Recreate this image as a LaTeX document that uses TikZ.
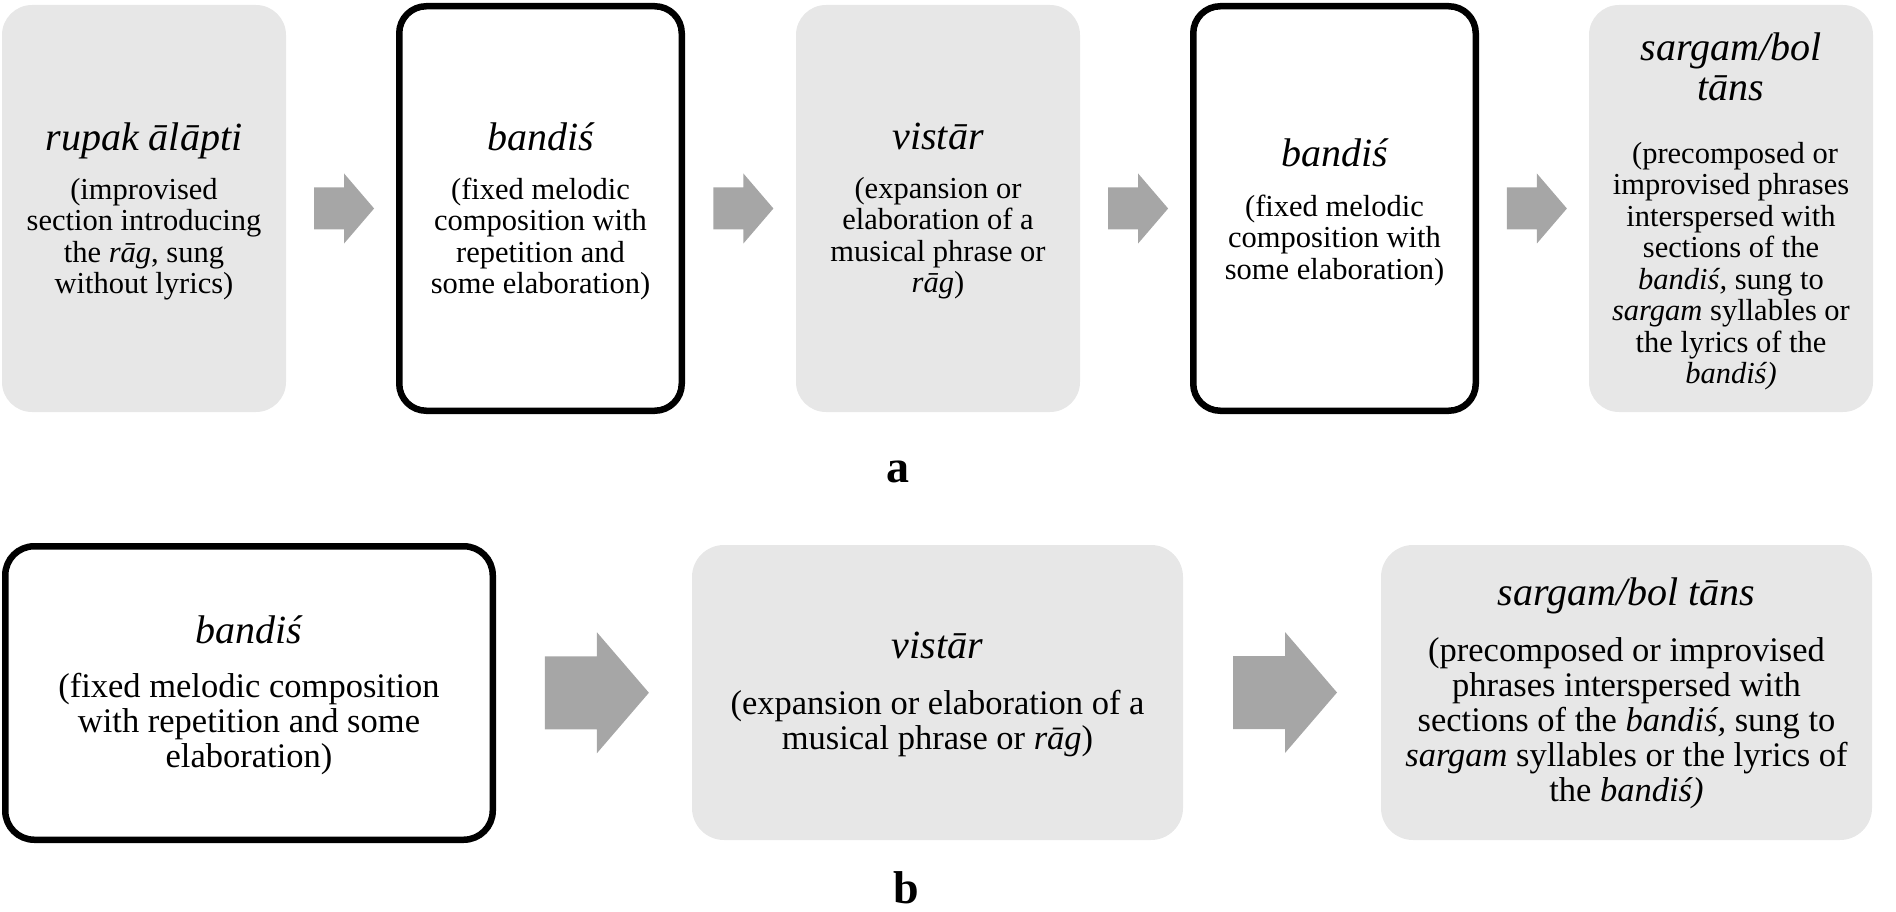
\documentclass[tikz,border=0pt]{standalone}
\usepackage{fontspec}
\setmainfont{Liberation Serif}
\usetikzlibrary{calc}
\definecolor{boxgray}{HTML}{E7E7E7}
\definecolor{arrgray}{HTML}{A6A6A6}
\newcommand\toptext[3][17pt]{\begin{minipage}{280pt}\centering
  \fontsize{40}{40}\selectfont\itshape #2\par\vspace{#1}%
  \fontsize{30.5}{31.5}\selectfont\upshape #3\par\end{minipage}}
\newcommand\bottext[3][19pt]{\begin{minipage}{480pt}\centering
  \fontsize{40}{40}\selectfont\itshape #2\par\vspace{#1}%
  \fontsize{34.5}{35}\selectfont\upshape #3\par\end{minipage}}
% block arrow: #1 centre, #2 half length, #3 shaft half height, #4 head half height, #5 head length
\newcommand\blockarr[5]{%
  \fill[arrgray] ($(#1)+(-#2,-#3)$) -- ($(#1)+(#2-#5,-#3)$) -- ($(#1)+(#2-#5,-#4)$)
    -- ($(#1)+(#2,0)$) -- ($(#1)+(#2-#5,#4)$) -- ($(#1)+(#2-#5,#3)$)
    -- ($(#1)+(-#2,#3)$) -- cycle;}
\begin{document}
\begin{tikzpicture}[x=1pt,y=-1pt,
  graytop/.style={fill=boxgray, draw=none, rounded corners=30pt, inner sep=0pt,
    minimum width=284pt, minimum height=407pt},
  boldtop/.style={fill=white, draw=black, line width=6.5pt, rounded corners=27pt, inner sep=0pt,
    minimum width=282.5pt, minimum height=404.5pt},
  graybot/.style={fill=boxgray, draw=none, rounded corners=32pt, inner sep=0pt,
    minimum width=491pt, minimum height=295pt},
  boldbot/.style={fill=white, draw=black, line width=6.5pt, rounded corners=29pt, inner sep=0pt,
    minimum width=487.5pt, minimum height=293.5pt},
  txt/.style={inner sep=0pt},
  panellabel/.style={font=\bfseries\fontsize{46}{46}\selectfont, anchor=base, inner sep=0pt}]
\useasboundingbox (0,0) rectangle (1896,912);

% row a
\node[graytop] (a1) at (144,208.5) {};
\node[boldtop] (a2) at (540.5,208.5) {};
\node[graytop] (a3) at (938,208.5) {};
\node[boldtop] (a4) at (1334.5,208.5) {};
\node[graytop] (a5) at (1731,208.5) {};

\node[txt] (a1t) at ($(a1.center)+(0,3)$) {\toptext{rupak ālāpti}{(improvised\\section introducing\\the \textit{rāg}, sung\\without lyrics)}};
\node[txt] (a2t) at ($(a2.center)+(0,3)$) {\toptext{bandiś}{(fixed melodic\\composition with\\repetition and\\some elaboration)}};
\node[txt] (a3t) at ($(a3.center)+(0,3)$) {\toptext{vistār}{(expansion or\\elaboration of a\\musical phrase or\\\textit{rāg})}};
\node[txt] (a4t) at ($(a4.center)+(0,4)$) {\toptext[18pt]{bandiś}{(fixed melodic\\composition with\\some elaboration)}};
\node[txt] (a5t) at ($(a5.center)+(0,3)$) {\toptext[31pt]{sargam/bol\\tāns}{\hspace*{8pt}(precomposed or\\improvised phrases\\interspersed with\\sections of the\\\textit{bandiś,} sung to\\\textit{sargam} syllables or\\the lyrics of the\\\textit{bandiś)}}};

\foreach \i/\j in {1/2,2/3,3/4,4/5}{
  \coordinate (ma\i) at ($(a\i.east)!0.5!(a\j.west)+(3,0)$);
  \blockarr{ma\i}{30}{21}{35}{30}
}
\node[panellabel] (la) at (898,482) {a};

% row b
\node[boldbot] (b1) at (249,693) {};
\node[graybot] (b2) at (937.5,692.5) {};
\node[graybot] (b3) at (1626.5,692.5) {};

\node[txt] (b1t) at ($(b1.center)+(0,2)$) {\bottext{bandiś}{(fixed melodic composition\\with repetition and some\\elaboration)}};
\node[txt] (b2t) at ($(b2.center)+(0,2)$) {\bottext[21pt]{vistār}{(expansion or elaboration of a\\musical phrase or \textit{rāg})}};
\node[txt] (b3t) at ($(b3.center)+(0,1)$) {\bottext[21pt]{sargam/bol tāns}{(precomposed or improvised\\phrases interspersed with\\sections of the \textit{bandiś,} sung to\\\textit{sargam} syllables or the lyrics of\\the \textit{bandiś)}}};

\foreach \i/\j in {1/2,2/3}{
  \coordinate (mb\i) at ($(b\i.east)!0.5!(b\j.west)+(3,0)$);
  \blockarr{mb\i}{52}{36.5}{60.5}{52}
}
\node[panellabel] (lb) at (906,903) {b};
\end{tikzpicture}
\end{document}
